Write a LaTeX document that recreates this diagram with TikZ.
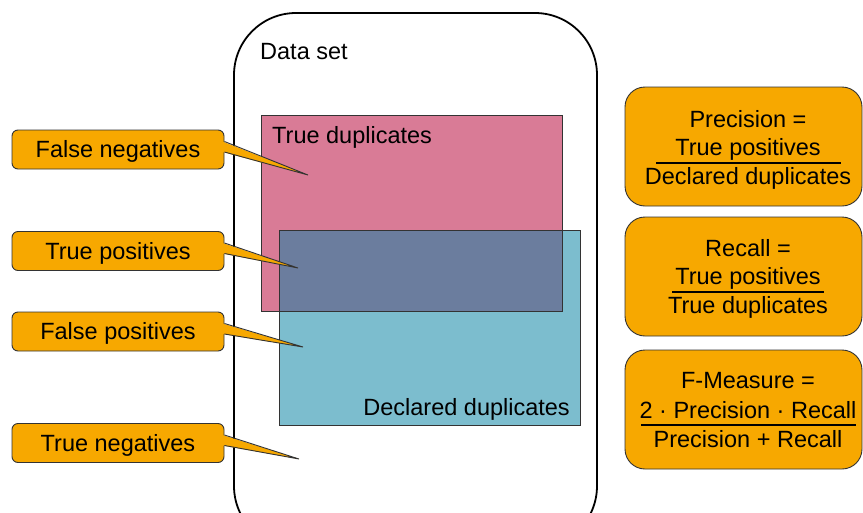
\documentclass[tikz,border=0pt]{standalone}
\usepackage{fontspec}
\setmainfont{Liberation Sans}
\begin{document}
\begin{tikzpicture}[x=1pt,y=-1pt,
  every node/.style={font=\fontsize{23.5}{26}\selectfont, inner sep=0pt},
  calloutbox/.style={draw=black!80, line width=0.9pt, fill=calloutorange,
    rounded corners=6pt, minimum width=212pt, minimum height=39pt,
    text height=16pt, text depth=0pt},
  pointerfill/.style={fill=calloutorange},
  pointeredge/.style={draw=black!80, line width=0.9pt, line join=miter},
  formulabox/.style={draw=black!80, line width=0.9pt, fill=calloutorange,
    rounded corners=20pt, minimum width=237pt, minimum height=119pt},
  setbox/.style={draw=black!80, line width=0.9pt},
  fracline/.style={line width=2pt},
]
\definecolor{calloutorange}{RGB}{247,168,0}
\definecolor{truedup}{RGB}{217,123,150}
\definecolor{decldup}{RGB}{124,189,206}
\definecolor{overlapdup}{RGB}{107,125,158}

\useasboundingbox (0,0) rectangle (863,512);
\clip (0,0) rectangle (863,512);

% data set container
\draw[line width=1.8pt, rounded corners=62pt] (234,13) rectangle (597,548);
\node[anchor=base west] (dataset) at (260,59) {Data set};

% true / declared duplicates and their overlap
\fill[truedup] (261,115) rectangle (562,311);
\fill[decldup] (279,230) rectangle (580,425);
\fill[overlapdup] (279,230) rectangle (562,311);
\draw[setbox] (261,115) rectangle (562,311);
\draw[setbox] (279,230) rectangle (580,425);
\node[anchor=base west] (truedupl) at (272,143) {True duplicates};
\node[anchor=base east] (decldupl) at (570,415) {Declared duplicates};

% pointer tips
\coordinate (fntip) at (308,175);
\coordinate (tptip) at (298,268);
\coordinate (fptip) at (303,347);
\coordinate (tntip) at (299,459);

% callout labels
\node[calloutbox] (fn) at (118,149.5) {False negatives};
\node[calloutbox] (tp) at (118,251) {True positives};
\node[calloutbox] (fp) at (118,331.5) {False positives};
\node[calloutbox] (tn) at (118,443) {True negatives};

% callout pointers
\foreach \n/\t in {fn/fntip, tp/tptip, fp/fptip, tn/tntip}{
  \fill[pointerfill] ([shift={(-2,2.5)}]\n.east) -- (\t) -- ([shift={(-2,-8)}]\n.east) -- cycle;
  \draw[pointeredge] ([shift={(0,2.5)}]\n.east) -- (\t) -- ([shift={(0,-8)}]\n.east);
}

% formula boxes
\node[formulabox] (prec) at (743.5,146.5) {};
\node[formulabox] (rec) at (743.5,276.5) {};
\node[formulabox] (fm) at (743.5,409.5) {};

\node[anchor=base] (precl) at (748,127) {Precision =};
\node[anchor=base] (precn) at (748,155) {True positives};
\node[anchor=base] (precd) at (748,184) {Declared duplicates};
\draw[fracline] (656,163) -- (841,163);

\node[anchor=base] (recl) at (748,256) {Recall =};
\node[anchor=base] (recn) at (748,284) {True positives};
\node[anchor=base] (recd) at (748,313) {True duplicates};
\draw[fracline] (672,292) -- (824,292);

\node[anchor=base] (fml) at (748,388) {F-Measure =};
\node[anchor=base] (fmn) at (748,418) {2 · Precision · Recall};
\node[anchor=base] (fmd) at (748,447) {Precision + Recall};
\draw[fracline] (641,425) -- (856,425);
\end{tikzpicture}
\end{document}
